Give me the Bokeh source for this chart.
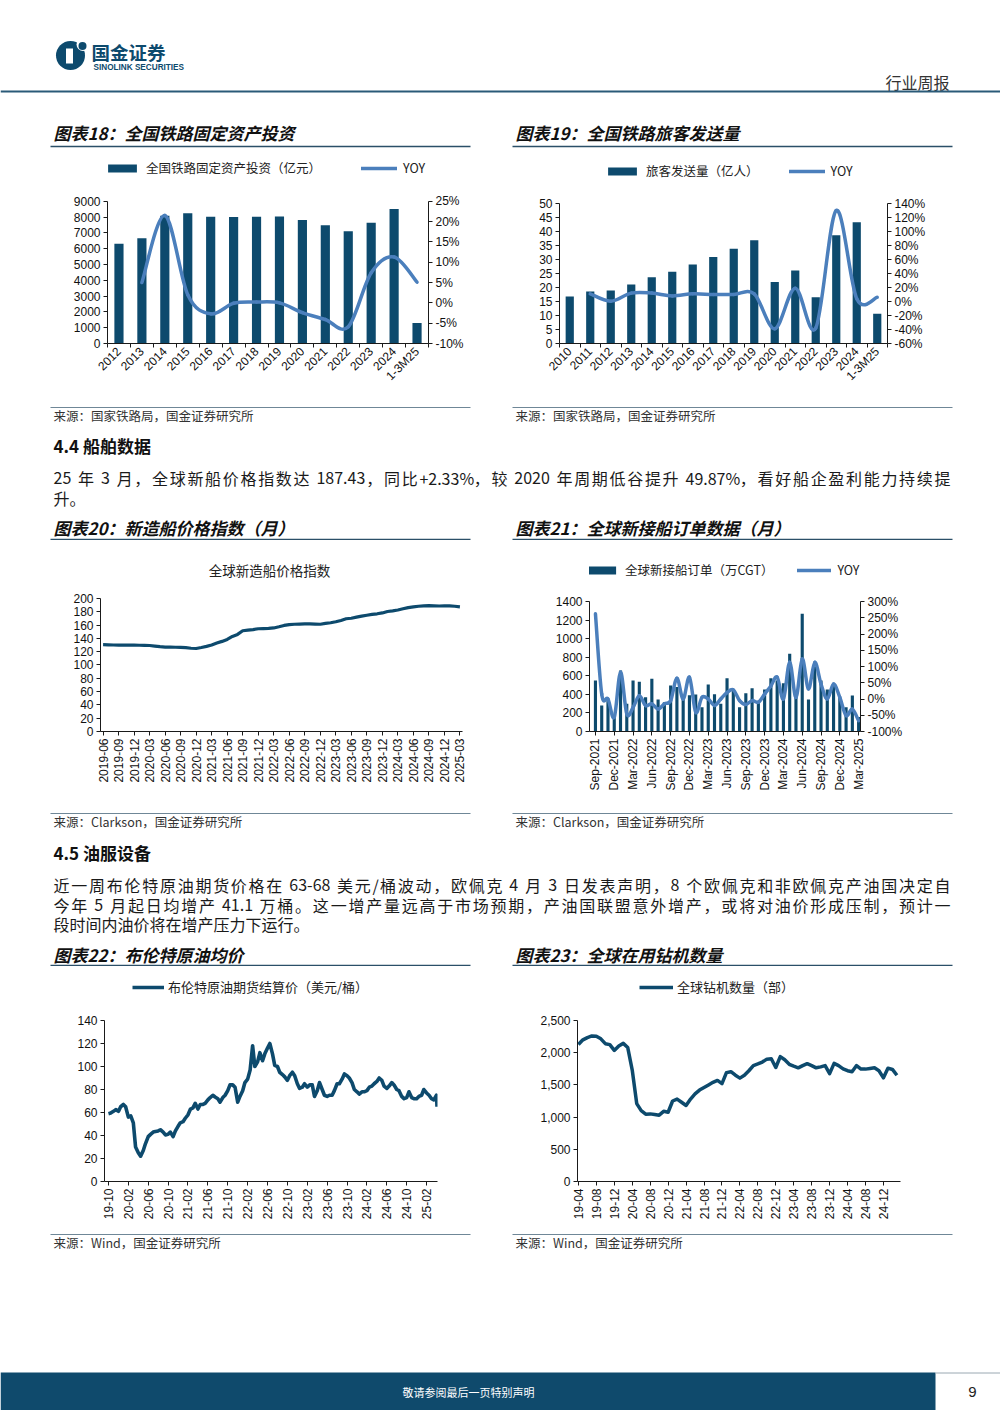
import math
import pandas as pd
from bokeh.plotting import figure
from bokeh.models import (Range1d, LinearAxis, FixedTicker, NumeralTickFormatter, PrintfTickFormatter,
                          CustomJSTickFormatter, Legend, LegendItem, Label)
from bokeh.layouts import column, row
from bokeh.embed import file_html
from bokeh.resources import INLINE
from bokeh.core.properties import value

# ---------------- data ----------------
rail_labels = ["2012", "2013", "2014", "2015", "2016", "2017", "2018", "2019", "2020", "2021",
               "2022", "2023", "2024", "1-3M25"]
rail_invest = [6310, 6657, 8088, 8238, 8015, 8010, 8028, 8029, 7819, 7489, 7109, 7645, 8506, 1300]
rail_invest_yoy = [None, 5.0, 21.5, 2.0, -2.7, -0.1, 0.2, 0.0, -2.4, -4.1, -5.9, 7.4, 11.3, 5.1]

pass_labels = ["2010", "2011", "2012", "2013", "2014", "2015", "2016", "2017", "2018", "2019",
               "2020", "2021", "2022", "2023", "2024", "1-3M25"]
passengers = [16.8, 18.6, 18.9, 21.1, 23.7, 25.6, 28.2, 30.9, 33.8, 36.9, 22.0, 26.1, 16.5, 38.7, 43.3, 10.6]
passengers_yoy = [None, 11, 0.5, 12, 12, 8, 11, 10, 10, 11, -39, 19, -38, 130, 4, 6]

ship_tick_labels = ["2019-06", "2019-09", "2019-12", "2020-03", "2020-06", "2020-09", "2020-12",
                    "2021-03", "2021-06", "2021-09", "2021-12", "2022-03", "2022-06", "2022-09",
                    "2022-12", "2023-03", "2023-06", "2023-09", "2023-12", "2024-03", "2024-06",
                    "2024-09", "2024-12", "2025-03"]
ship_price_index = [130.5, 130.3, 130.1, 130.0, 129.9, 129.8, 129.8,
                    129.7, 129.6, 129.3, 128.5, 127.5, 127.0, 126.8, 126.7, 126.5, 126.0, 125.2, 124.8,
                    126.3, 128.0, 130.0, 133.0, 135.5, 138.5, 143.0, 146.0, 151.5, 152.3, 153.2, 154.5,
                    154.8, 155.0, 155.7, 157.5, 159.5, 160.8, 161.3, 161.5, 161.8, 161.8, 161.5, 161.3,
                    162.5, 163.5, 165.0, 167.0, 169.5, 170.3, 172.0, 173.5, 174.8, 176.0, 177.0, 178.3,
                    180.5, 181.5, 182.7, 184.5, 186.3, 187.3, 188.3, 189.0, 189.3, 189.0, 188.7, 188.8,
                    189.0, 188.3, 187.4]

order_tick_labels = ["Sep-2021", "Dec-2021", "Mar-2022", "Jun-2022", "Sep-2022", "Dec-2022", "Mar-2023",
                     "Jun-2023", "Sep-2023", "Dec-2023", "Mar-2024", "Jun-2024", "Sep-2024", "Dec-2024",
                     "Mar-2025"]
new_orders = [550, 280, 330, 150, 657, 300, 550, 535, 370, 567, 345, 316, 495, 480, 380, 390, 398, 260,
              506, 400, 300, 574, 440, 260, 413, 466, 330, 452, 574, 550, 520, 836, 440, 1267, 345, 700,
              550, 452, 510, 362, 262, 388, 155]
new_orders_yoy = [262, 15, 0, -56, 82, -46, -26, 10, -20, -15, -31, -15, -5, 64, 0, 67, -41, 5, 0, -20,
                  0, 20, 28, -5, -17, -5, -10, 15, 40, 67, 0, 113, 5, 123, 31, 113, 46, 0, 46, 5,
                  -51, -31, -67]

brent_tick_labels = ["19-10", "20-02", "20-06", "20-10", "21-02", "21-06", "21-10", "22-02", "22-06",
                     "22-10", "23-02", "23-06", "23-10", "24-02", "24-06", "24-10", "25-02"]
brent_dates = [d.strftime("%Y-%m-%d") for d in pd.date_range("2019-10-01", "2025-04-01", freq="SMS")] + ["2025-04-04"]
brent_price = [59, 59.5, 61, 62.5, 61, 65,
               67, 65, 56, 57, 51, 30, 25, 22, 27, 33, 39, 41,
               43, 43.5, 44, 45, 43, 40.5, 41, 43, 39, 44, 48, 51,
               52, 55, 58, 63, 64, 68, 63, 67, 67, 68, 71, 73,
               75, 73.5, 72, 69, 73, 75, 79, 84, 84, 82, 69, 74,
               79, 86, 89, 97, 118, 100, 104, 112, 105, 111, 116, 120,
               111, 101, 100, 95, 93, 91, 88, 92, 95, 92, 85, 81,
               82, 85, 82, 84, 84, 74, 79, 86, 80, 75, 74, 75,
               75, 79, 85, 85, 89, 93.5, 92, 90, 86, 80, 78, 76,
               78, 78, 79, 82, 83, 85, 87, 90, 88, 83, 81, 83,
               86, 84, 80, 79, 74, 72, 73, 78, 73, 72, 72, 74,
               75, 80, 77, 75, 72, 71,
               75, 65]

rig_tick_labels = ["19-04", "19-08", "19-12", "20-04", "20-08", "20-12", "21-04", "21-08", "21-12",
                   "22-04", "22-08", "22-12", "23-04", "23-08", "23-12", "24-04", "24-08", "24-12"]
rig_count = [2127, 2200, 2235, 2260, 2255, 2215, 2140, 2125, 2035, 2105, 2145, 2080,
             1730, 1210, 1100, 1045, 1050, 1040, 1030, 1090, 1075, 1250, 1280, 1230,
             1180, 1280, 1360, 1420, 1460, 1500, 1540, 1570, 1520, 1690, 1705, 1650,
             1605, 1650, 1720, 1800, 1825, 1855, 1900, 1905, 1770, 1940, 1890, 1820,
             1790, 1765, 1800, 1830, 1800, 1765, 1780, 1800, 1675, 1835, 1800, 1750,
             1720, 1705, 1800, 1745, 1745, 1755, 1765, 1720, 1610, 1760, 1740, 1650]

# ---------------- styles ----------------
NAVY = "#0d4a6d"
YOY_BLUE = "#4b7fbc"
CJK = "Noto Sans CJK SC"
LAT = "Liberation Sans"
W = 1000
HALF = 500


def ext(vmin, vmax, frame_top, axis_top, frame_bottom):
    return vmin + (vmax - vmin) * (frame_bottom - frame_top) / (frame_bottom - axis_top)


def chart_fig(box, xr, yr):
    x0, y0, w, h, fl, fr, ft, fb = box
    p = figure(width=w, height=h, x_range=xr, y_range=yr, output_backend="svg", toolbar_location=None,
               min_border_left=fl - x0, min_border_right=x0 + w - fr,
               min_border_top=ft - y0, min_border_bottom=y0 + h - fb)
    p.outline_line_color = None
    p.xgrid.visible = False
    p.ygrid.visible = False
    p.background_fill_color = "white"
    p.border_fill_color = "white"
    return p


def style_axis(ax, size="12px"):
    ax.axis_line_color = "#1a1a1a"
    ax.axis_line_width = 1
    ax.major_tick_line_color = "#1a1a1a"
    ax.major_tick_out = 4
    ax.major_tick_in = 0
    ax.minor_tick_line_color = None
    ax.major_label_text_font = LAT
    ax.major_label_text_font_size = size
    ax.major_label_text_color = "#111111"
    ax.major_label_standoff = 3


def label_formatter(tpos, tlab):
    return CustomJSTickFormatter(args=dict(tpos=list(tpos), tlab=list(tlab)), code="""
        for (let k = 0; k < tpos.length; k++) { if (Math.abs(tpos[k] - tick) < 1e-6) return tlab[k]; }
        return "";""")


def catmull_bezier(xs, ys):
    pts = [(x, y) for x, y in zip(xs, ys) if y is not None]
    n = len(pts)
    d = dict(x0=[], y0=[], x1=[], y1=[], cx0=[], cy0=[], cx1=[], cy1=[])
    for i in range(n - 1):
        p0 = pts[i - 1] if i > 0 else pts[i]
        p1 = pts[i]
        p2 = pts[i + 1]
        p3 = pts[i + 2] if i + 2 < n else pts[i + 1]
        d["x0"].append(p1[0]); d["y0"].append(p1[1])
        d["x1"].append(p2[0]); d["y1"].append(p2[1])
        d["cx0"].append(p1[0] + (p2[0] - p0[0]) / 6.0); d["cy0"].append(p1[1] + (p2[1] - p0[1]) / 6.0)
        d["cx1"].append(p2[0] - (p3[0] - p1[0]) / 6.0); d["cy1"].append(p2[1] - (p3[1] - p1[1]) / 6.0)
    return d


def add_legend(p, items, lx, ly, spacing=30, size="12.5px", gw=36, gh=10, standoff=6):
    leg = Legend(items=[LegendItem(label=t, renderers=[r]) for t, r in items], orientation="horizontal",
                 location=(lx, ly), spacing=spacing, padding=0, margin=0, glyph_width=gw, glyph_height=gh,
                 label_standoff=standoff, label_height=14, label_text_font=CJK, label_text_font_size=size,
                 label_text_color="#222222", background_fill_alpha=0, border_line_color=None)
    p.add_layout(leg, "center")


def bar_yoy_chart(box, axis_top, labels, bars, yoy, ymax, ystep, rmin, rmax, rstep, leg_name, leg_x, leg_y,
                  leg_spacing):
    x0, y0, w, h, fl, fr, ft, fb = box
    n = len(labels)
    xs = list(range(n))
    p = chart_fig(box, Range1d(-0.5, n - 0.5), Range1d(0, ext(0, ymax, ft, axis_top, fb)))
    p.extra_y_ranges = {"yoy": Range1d(rmin, ext(rmin, rmax, ft, axis_top, fb))}
    rb = p.vbar(x=xs, top=bars, width=0.4, fill_color=NAVY, line_color=None)
    bz = catmull_bezier(xs, yoy)
    rl = p.bezier(source=bz, x0="x0", y0="y0", x1="x1", y1="y1", cx0="cx0", cy0="cy0", cx1="cx1", cy1="cy1",
                  line_color=YOY_BLUE, line_width=3.5, line_cap="round", y_range_name="yoy")
    ya = p.yaxis[0]
    style_axis(ya)
    ya.ticker = FixedTicker(ticks=[ystep * k for k in range(int(round(ymax / ystep)) + 1)])
    ya.bounds = (0, ymax)
    ya.formatter = PrintfTickFormatter(format="%d")
    ra = LinearAxis(y_range_name="yoy")
    style_axis(ra)
    ra.ticker = FixedTicker(ticks=list(range(rmin, rmax + 1, rstep)))
    ra.bounds = (rmin, rmax)
    ra.formatter = PrintfTickFormatter(format="%d%%")
    p.add_layout(ra, "right")
    xa = p.xaxis[0]
    style_axis(xa)
    xa.ticker = FixedTicker(ticks=xs, minor_ticks=[i - 0.5 for i in range(n + 1)])
    xa.major_tick_line_color = None
    xa.minor_tick_line_color = "#1a1a1a"
    xa.minor_tick_out = 4
    xa.minor_tick_in = 0
    xa.formatter = label_formatter(xs, labels)
    xa.major_label_orientation = math.pi / 4
    xa.major_label_standoff = 2
    add_legend(p, [(leg_name, rb), ("YOY", rl)], leg_x, leg_y, spacing=leg_spacing)
    return p


# ---------------- chart 18 ----------------
p18 = bar_yoy_chart((0, 150, HALF, 256, 107, 428, 160, 344), 201, rail_labels, rail_invest, rail_invest_yoy,
                    9000, 1000, -10, 25, 5, "全国铁路固定资产投资（亿元）", -3, 166, 40)
# ---------------- chart 19 ----------------
p19 = bar_yoy_chart((HALF, 150, HALF, 256, 559, 887, 160, 343), 203, pass_labels, passengers, passengers_yoy,
                    50, 5, -60, 140, 20, "旅客发送量（亿人）", 45, 163, 30)

# ---------------- chart 20 ----------------
box20 = (0, 540, HALF, 272, 100, 462, 555, 741)
n20 = len(ship_price_index)
xr20 = Range1d(-0.5, n20 - 0.5)
yr20 = Range1d(0, ext(0, 200, 555, 598, 741))
p20 = chart_fig(box20, xr20, yr20)
p20.line(x=list(range(n20)), y=ship_price_index, line_color=NAVY, line_width=3.2, line_join="round")
ya = p20.yaxis[0]
style_axis(ya)
ya.ticker = FixedTicker(ticks=list(range(0, 201, 20)))
ya.bounds = (0, 200)
ya.formatter = PrintfTickFormatter(format="%d")
xa = p20.xaxis[0]
style_axis(xa)
pos20 = list(range(0, n20, 3))
xa.ticker = FixedTicker(ticks=pos20)
xa.formatter = label_formatter(pos20, ship_tick_labels)
xa.major_label_orientation = math.pi / 2
tx = xr20.start + (269 - 100) / (462 - 100) * (xr20.end - xr20.start)
ty = (741 - 567) / (741 - 598) * 200
p20.add_layout(Label(x=tx, y=ty, text="全球新造船价格指数", text_font=CJK, text_font_size="13.5px",
                     text_align="center", text_baseline="middle", text_color="#222222"))

# ---------------- chart 21 ----------------
box21 = (HALF, 540, HALF, 272, 589, 860, 558, 731)
n21 = len(new_orders)
xs21 = list(range(n21))
p21 = chart_fig(box21, Range1d(-0.95, n21 - 0.7), Range1d(0, ext(0, 1400, 558, 601, 731)))
p21.extra_y_ranges = {"yoy": Range1d(-100, ext(-100, 300, 558, 601, 731))}
rb21 = p21.vbar(x=xs21, top=new_orders, width=0.5, fill_color=NAVY, line_color=None)
bz21 = catmull_bezier(xs21, new_orders_yoy)
rl21 = p21.bezier(source=bz21, x0="x0", y0="y0", x1="x1", y1="y1", cx0="cx0", cy0="cy0", cx1="cx1", cy1="cy1",
                  line_color=YOY_BLUE, line_width=3.5, line_cap="round", y_range_name="yoy")
ya = p21.yaxis[0]
style_axis(ya)
ya.ticker = FixedTicker(ticks=list(range(0, 1401, 200)))
ya.bounds = (0, 1400)
ya.formatter = PrintfTickFormatter(format="%d")
ra = LinearAxis(y_range_name="yoy")
style_axis(ra)
ra.ticker = FixedTicker(ticks=list(range(-100, 301, 50)))
ra.bounds = (-100, 300)
ra.formatter = PrintfTickFormatter(format="%d%%")
p21.add_layout(ra, "right")
xa = p21.xaxis[0]
style_axis(xa)
pos21 = list(range(0, n21, 3))
xa.ticker = FixedTicker(ticks=pos21)
xa.formatter = label_formatter(pos21, order_tick_labels)
xa.major_label_orientation = math.pi / 2
add_legend(p21, [("全球新接船订单（万CGT）", rb21), ("YOY", rl21)], -4, 152, spacing=24, gw=34)

# ---------------- chart 22 ----------------
box22 = (0, 966, HALF, 267, 104, 437, 978, 1181)
bd = pd.to_datetime(brent_dates)
brent_x = [(d.year - 2019) * 12 + d.month - 10 + (d.day - 1) / d.days_in_month for d in bd]
p22 = chart_fig(box22, Range1d(-0.8, 66.2), Range1d(0, ext(0, 140, 978, 1020, 1181)))
r22 = p22.line(x=brent_x, y=brent_price, line_color=NAVY, line_width=3.6, line_join="round")
ya = p22.yaxis[0]
style_axis(ya)
ya.ticker = FixedTicker(ticks=list(range(0, 141, 20)))
ya.bounds = (0, 140)
ya.formatter = PrintfTickFormatter(format="%d")
xa = p22.xaxis[0]
style_axis(xa)
pos22 = list(range(0, 65, 4))
xa.ticker = FixedTicker(ticks=pos22)
xa.formatter = label_formatter(pos22, brent_tick_labels)
xa.major_label_orientation = math.pi / 2
add_legend(p22, [("布伦特原油期货结算价（美元/桶）", r22)], 28, 185, gw=32, standoff=4, size="13px")

# ---------------- chart 23 ----------------
box23 = (HALF, 966, HALF, 267, 577, 900, 978, 1181)
n23 = len(rig_count)
p23 = chart_fig(box23, Range1d(-0.2, n23 - 0.2), Range1d(0, ext(0, 2500, 978, 1020, 1181)))
r23 = p23.line(x=list(range(n23)), y=rig_count, line_color=NAVY, line_width=3.5, line_join="round")
ya = p23.yaxis[0]
style_axis(ya)
ya.ticker = FixedTicker(ticks=list(range(0, 2501, 500)))
ya.bounds = (0, 2500)
ya.formatter = NumeralTickFormatter(format="0,0")
xa = p23.xaxis[0]
style_axis(xa)
pos23 = list(range(0, 69, 4))
xa.ticker = FixedTicker(ticks=pos23)
xa.formatter = label_formatter(pos23, rig_tick_labels)
xa.major_label_orientation = math.pi / 2
add_legend(p23, [("全球钻机数量（部）", r23)], 62, 185, gw=34, standoff=4, size="13px")


# ---------------- page decoration ----------------
def decor_fig(y_top, y_bot):
    p = figure(width=W, height=y_bot - y_top, x_range=Range1d(0, W), y_range=Range1d(y_bot, y_top),
               x_axis_type=None, y_axis_type=None, output_backend="svg", toolbar_location=None, min_border=0)
    p.outline_line_color = None
    p.background_fill_color = "white"
    p.border_fill_color = "white"
    return p


def txt(p, x, y, s, size, color="#1a1a1a", style="normal", align="left", font=CJK):
    p.text(x=[x], y=[y], text=[s], text_font=value(font), text_font_size=value(size), text_font_style=style,
           text_color=color, text_align=align, text_baseline="middle")


def em_width(s):
    w = 0.0
    for c in s:
        if ord(c) > 127:
            w += 1.0
        elif c.isdigit():
            w += 0.55
        elif c == " ":
            w += 0.22
        elif c == ".":
            w += 0.26
        elif c == "%":
            w += 0.83
        elif c == "-":
            w += 0.34
        elif c == "/":
            w += 0.36
        else:
            w += 0.55
    return w


def justified(p, x_left, x_right, y, s, size_px, color="#1a1a1a"):
    tokens = []
    run = ""
    for c in s:
        if 32 < ord(c) < 128:
            run += c
        else:
            if run:
                tokens.append(run)
                run = ""
            tokens.append(c)
    if run:
        tokens.append(run)
    widths = [em_width(t) * size_px for t in tokens]
    gap = (x_right - x_left - sum(widths)) / (len(tokens) - 1)
    xs, ts = [], []
    x = x_left
    for t, w in zip(tokens, widths):
        if t.strip():
            xs.append(x)
            ts.append(t)
        x += w + gap
    p.text(x=xs, y=[y] * len(xs), text=ts, text_font=value(CJK), text_font_size=value("%dpx" % size_px),
           text_color=color, text_align="left", text_baseline="middle")


def seg(p, x0, x1, y, color, width):
    p.segment(x0=[x0], y0=[y], x1=[x1], y1=[y], line_color=color, line_width=width)


TITLE_LINE = "#2b4f68"
SRC_LINE = "#6f8797"
BODY = "16px"
TITLE = "17px"
SRC = "12.5px"

# header
h0 = decor_fig(0, 150)
h0.circle(x=[70], y=[55], radius=14.5, fill_color=NAVY, line_color=None)
h0.quad(left=[65.5], right=[72.5], top=[48], bottom=[63], fill_color="white", line_color=None)
h0.circle(x=[82.5], y=[44], radius=6.5, fill_color="white", line_color=None)
h0.circle(x=[82], y=[45.5], radius=4, fill_color=NAVY, line_color=None)
txt(h0, 91, 51.5, "国金证券", "18.5px", color=NAVY, style="bold")
txt(h0, 93, 66.5, "SINOLINK SECURITIES", "8.2px", color=NAVY, style="bold", font=LAT)
txt(h0, 949, 81, "行业周报", "16px", color="#333333", align="right")
seg(h0, 0, W, 91, "#2a5a78", 2)
txt(h0, 53, 132, "图表18：全国铁路固定资产投资", TITLE, color="#111111", style="bold italic")
txt(h0, 515, 132, "图表19：全国铁路旅客发送量", TITLE, color="#111111", style="bold italic")
seg(h0, 50, 470, 146, TITLE_LINE, 1.6)
seg(h0, 512, 952, 146, TITLE_LINE, 1.6)

# text block 1
t1 = decor_fig(406, 540)
seg(t1, 50, 470, 407, SRC_LINE, 1.2)
seg(t1, 512, 952, 407, SRC_LINE, 1.2)
txt(t1, 53, 415, "来源：国家铁路局，国金证券研究所", SRC, color="#333333")
txt(t1, 515, 415, "来源：国家铁路局，国金证券研究所", SRC, color="#333333")
txt(t1, 53, 445, "4.4 船舶数据", "17px", color="#111111", style="bold")
justified(t1, 53, 950, 477, "25 年 3 月，全球新船价格指数达 187.43，同比+2.33%，较 2020 年周期低谷提升 49.87%，看好船企盈利能力持续提", 16)
txt(t1, 53, 497, "升。", BODY)
txt(t1, 53, 527, "图表20：新造船价格指数（月）", TITLE, color="#111111", style="bold italic")
txt(t1, 515, 527, "图表21：全球新接船订单数据（月）", TITLE, color="#111111", style="bold italic")
seg(t1, 50, 470, 539, TITLE_LINE, 1.6)
seg(t1, 512, 952, 539, TITLE_LINE, 1.6)

# text block 2
t2 = decor_fig(812, 966)
seg(t2, 50, 470, 813, SRC_LINE, 1.2)
seg(t2, 512, 952, 813, SRC_LINE, 1.2)
txt(t2, 53, 821, "来源：Clarkson，国金证券研究所", SRC, color="#333333")
txt(t2, 515, 821, "来源：Clarkson，国金证券研究所", SRC, color="#333333")
txt(t2, 53, 852, "4.5 油服设备", "17px", color="#111111", style="bold")
justified(t2, 53, 950, 884, "近一周布伦特原油期货价格在 63-68 美元/桶波动，欧佩克 4 月 3 日发表声明，8 个欧佩克和非欧佩克产油国决定自", 16)
justified(t2, 53, 950, 904, "今年 5 月起日均增产 41.1 万桶。这一增产量远高于市场预期，产油国联盟意外增产，或将对油价形成压制，预计一", 16)
txt(t2, 53, 923, "段时间内油价将在增产压力下运行。", BODY)
txt(t2, 53, 954, "图表22：布伦特原油均价", TITLE, color="#111111", style="bold italic")
txt(t2, 515, 954, "图表23：全球在用钻机数量", TITLE, color="#111111", style="bold italic")
seg(t2, 50, 470, 965, TITLE_LINE, 1.6)
seg(t2, 512, 952, 965, TITLE_LINE, 1.6)

# footer
f0 = decor_fig(1233, 1410)
seg(f0, 50, 470, 1234, SRC_LINE, 1.2)
seg(f0, 512, 952, 1234, SRC_LINE, 1.2)
txt(f0, 53, 1242, "来源：Wind，国金证券研究所", SRC, color="#333333")
txt(f0, 515, 1242, "来源：Wind，国金证券研究所", SRC, color="#333333")
f0.quad(left=[0], right=[935], top=[1372], bottom=[1410], fill_color="#0f4a6c", line_color=None)
seg(f0, 935, W, 1372.5, "#9aa8b2", 1)
txt(f0, 468, 1391, "敬请参阅最后一页特别声明", "11px", color="white", align="center")
txt(f0, 972, 1391, "9", "15px", color="#222222", align="center", font=LAT)

layout = column(h0, row(p18, p19), t1, row(p20, p21), t2, row(p22, p23), f0)
open("out.html", "w").write(file_html(layout, INLINE))
